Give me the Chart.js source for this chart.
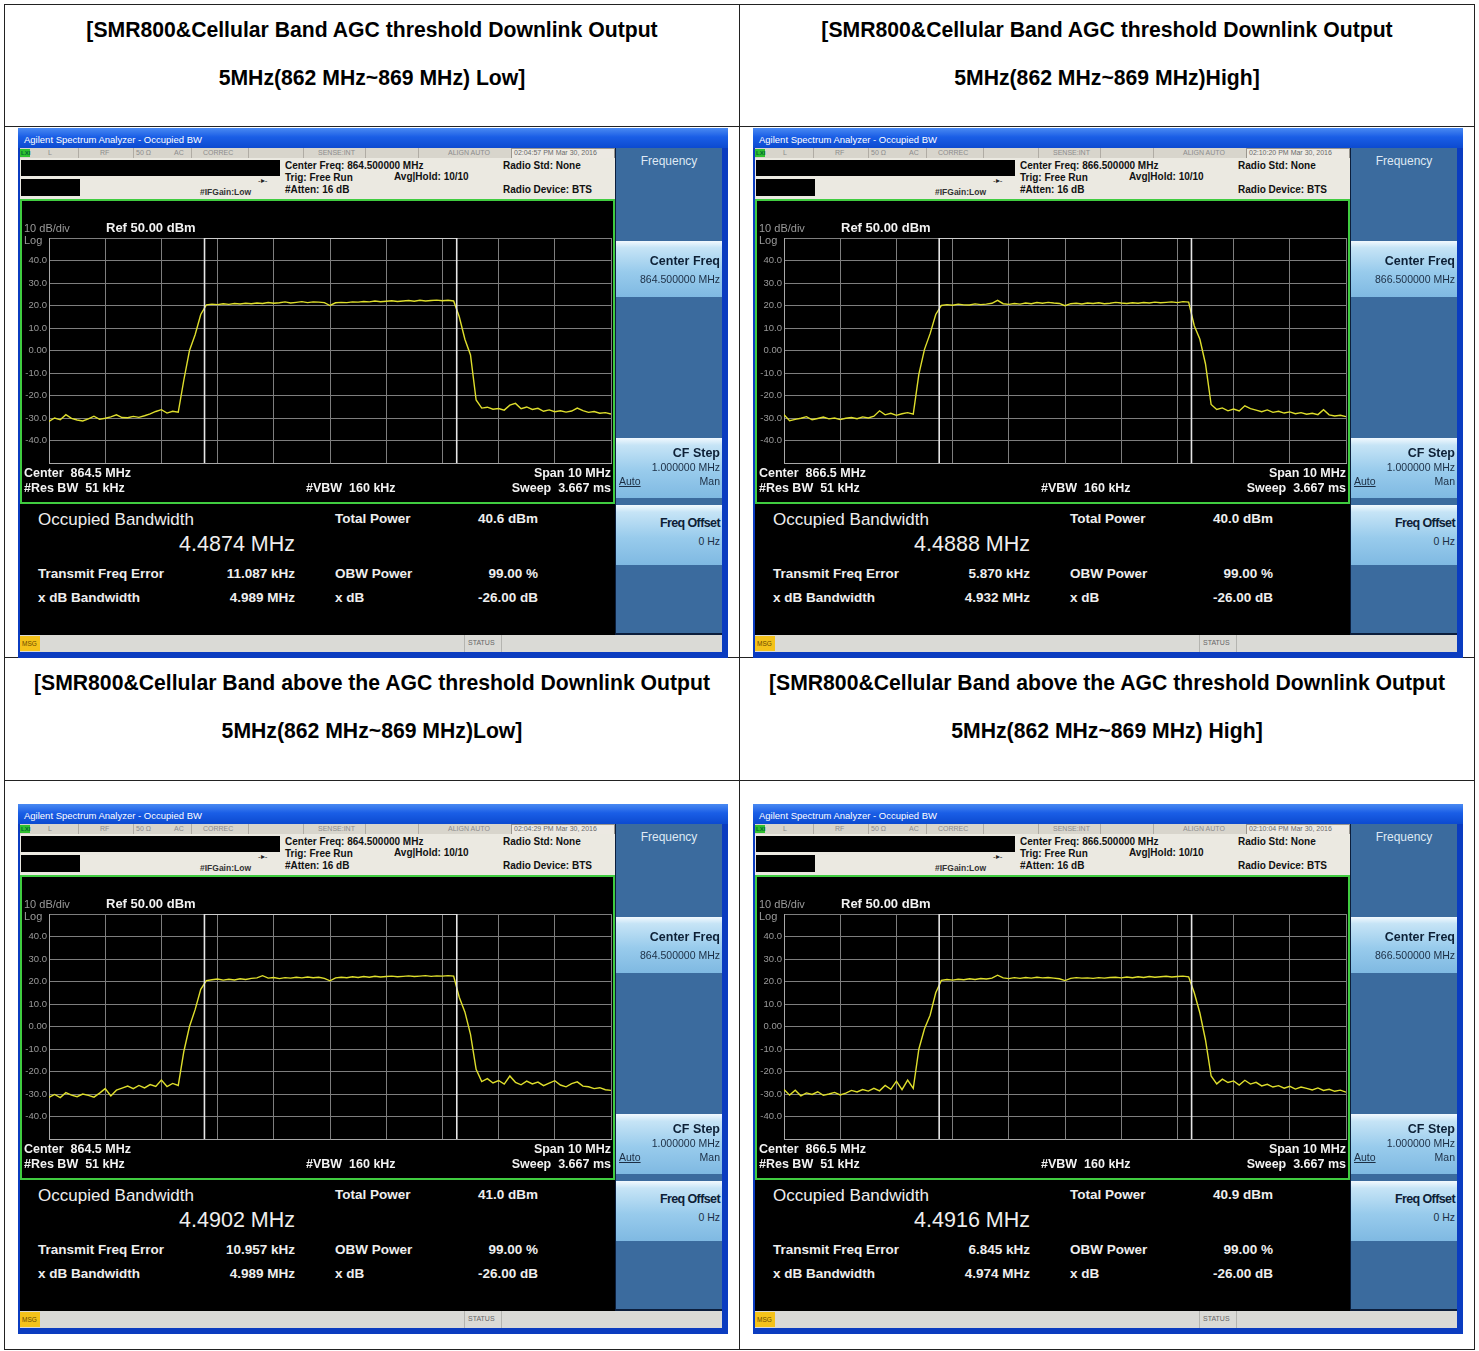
<!DOCTYPE html>
<html>
<head>
<meta charset="utf-8">
<script src="https://cdn.jsdelivr.net/npm/chart.js@4.4.1/dist/chart.umd.min.js"></script>
<style>
  body { margin: 0; width: 1479px; height: 1351px; position: relative; background: #fff; font-family: "Liberation Sans", Arial, sans-serif; overflow: hidden; }
  .abs { position: absolute; }
</style>
</head>
<body>
<script>
// sweep traces, 101 points across the 10 MHz span (dBm)
const traceLowAgc = [
  -31.5, -30.0, -30.8, -28.5, -30.2, -30.9, -31.3, -30.4, -29.2, -30.6,
  -30.1, -29.5, -28.6, -29.8, -29.9, -29.3, -29.7, -29.0, -28.2, -27.1,
  -26.3, -27.8, -27.0, -27.4, -13.0, 0.0, 7.0, 16.0, 20.3, 20.6,
  20.4, 20.8, 20.5, 20.9, 20.7, 21.0, 20.8, 21.1, 20.9, 21.3,
  21.0, 21.2, 21.6, 21.1, 21.4, 21.7, 21.3, 21.6, 21.5, 21.3,
  20.0, 21.2, 21.4, 21.3, 21.6, 21.5, 21.8, 21.6, 22.0, 21.7,
  21.9, 22.1, 21.8, 22.0, 22.2, 21.9, 22.3, 22.0, 22.2, 22.4,
  22.1, 22.3, 22.0, 15.0, 5.0, -2.0, -22.0, -25.6, -25.2, -26.1,
  -25.8, -26.5, -24.3, -23.5, -25.9, -25.1, -26.2, -25.7, -27.0, -26.4,
  -27.2, -26.8, -27.4, -26.9, -25.6, -26.7, -27.5, -27.1, -27.9, -27.6,
  -28.2
];
const traceHighAgc = [
  -28.5, -31.2, -30.6, -30.1, -29.4, -30.8, -30.2, -29.6, -30.4, -30.0,
  -30.7, -30.1, -29.8, -30.3, -29.5, -30.0, -29.2, -26.8, -28.6, -27.9,
  -28.8, -28.1, -27.6, -28.3, -10.5, 0.5, 7.5, 16.0, 20.0, 20.4,
  20.1, 20.6, 20.3, 20.2, 20.7, 20.4, 20.6, 21.0, 22.3, 20.8,
  20.5, 20.9, 20.6, 21.1, 20.8, 21.3, 21.0, 21.4, 21.1, 20.9,
  19.9, 20.8, 21.0, 20.7, 21.1, 20.9, 21.2, 20.8, 21.0, 21.4,
  21.1, 20.9, 21.2, 21.0, 21.3, 21.1, 21.5, 21.2, 21.4, 21.6,
  21.3, 21.7, 21.5, 11.0, 5.0, -6.0, -24.0, -26.2, -25.5, -26.8,
  -26.0, -26.9, -24.6, -25.8, -26.5, -27.2, -26.4, -27.5, -27.0, -27.8,
  -27.3, -28.1, -27.6, -28.3, -27.9, -28.5, -26.3, -28.6, -29.1, -28.8,
  -29.4
];
const traceLowAbove = [
  -31.5, -30.2, -31.6, -29.4, -30.5, -31.2, -30.0, -30.6, -31.4, -29.6,
  -27.6, -30.9, -28.3, -27.4, -26.5, -27.6, -26.2, -27.3, -25.8, -26.6,
  -23.8, -26.7, -25.3, -26.2, -11.0, 0.0, 7.5, 16.5, 20.4, 20.8,
  21.1, 20.6, 21.0, 20.7, 21.2, 20.9, 21.4, 21.6, 22.6, 21.5,
  21.8, 21.3, 21.7, 21.5, 21.9, 21.6, 22.0, 21.7, 21.9, 21.4,
  20.3, 21.6, 21.9, 21.7, 22.1, 21.8, 22.2, 21.9, 22.3, 22.0,
  22.2, 22.4, 22.1, 22.3, 22.5, 22.2, 22.4, 22.6, 22.3, 22.5,
  22.4, 22.6, 22.4, 13.0, 6.5, -3.5, -19.0, -24.5, -23.2, -25.1,
  -24.0, -25.6, -22.0, -24.8, -25.9, -24.3, -25.5, -24.7, -26.3, -25.2,
  -24.1, -26.0, -26.8, -25.4, -24.6, -26.5, -26.8, -27.6, -27.2, -28.1,
  -28.4
];
const traceHighAbove = [
  -28.0, -30.5, -28.3, -30.8, -29.5, -30.2, -29.0, -30.6, -30.0, -29.3,
  -30.4, -29.6, -28.4, -29.1, -28.0, -28.7, -27.5, -28.6, -26.2, -27.9,
  -24.3, -28.1, -23.8, -27.5, -10.0, -1.0, 5.0, 15.0, 20.5, 20.9,
  20.6, 21.0, 20.8, 21.2, 20.9, 21.3, 21.1, 21.5, 22.8, 21.6,
  21.3, 21.7, 21.4, 21.8, 21.5, 21.9, 21.6, 21.8, 21.5, 21.2,
  20.4, 21.4, 21.7, 21.5, 21.6, 21.4, 21.7, 21.5, 21.8, 21.9,
  21.6, 22.0, 21.7, 22.1, 21.8, 22.2, 21.9, 22.1, 22.3, 22.0,
  22.2, 22.4, 22.1, 15.0, 6.0, -6.0, -22.0, -25.5, -23.4, -24.9,
  -24.2, -26.0, -23.9, -25.6, -24.8, -26.4, -25.7, -26.9, -26.3, -27.4,
  -26.6, -27.8, -26.9, -27.5, -28.2, -27.3, -28.4, -27.9, -28.8, -28.3,
  -29.2
];

// per-screenshot readouts (same order as the traces)
const centerFreqs = [864.5, 866.5, 864.5, 866.5];
const obwMHz = [4.4874, 4.4888, 4.4902, 4.4916];
const freqErrorKHz = [11.087, 5.870, 10.957, 6.845];
const totalPowerDbm = [40.6, 40.0, 41.0, 40.9];
const xdbBandwidthMHz = [4.989, 4.932, 4.989, 4.974];
const timestamps = ["02:04:57 PM Mar 30, 2016", "02:10:20 PM Mar 30, 2016", "02:04:29 PM Mar 30, 2016", "02:10:04 PM Mar 30, 2016"];
const yTicks = [50, 40, 30, 20, 10, 0, -10, -20, -30, -40, -50];

const titleTop = [
  ["[SMR800&Cellular Band AGC threshold Downlink Output", "5MHz(862 MHz~869 MHz) Low]"],
  ["[SMR800&Cellular Band AGC threshold Downlink Output", "5MHz(862 MHz~869 MHz)High]"]
];
const titleBottom = [
  ["[SMR800&Cellular Band above the AGC threshold Downlink Output", "5MHz(862 MHz~869 MHz)Low]"],
  ["[SMR800&Cellular Band above the AGC threshold Downlink Output", "5MHz(862 MHz~869 MHz) High]"]
];

const SPAN = 10;

function box(parent, css) {
  const d = document.createElement("div");
  d.className = "abs";
  d.style.cssText += css;
  parent.appendChild(d);
  return d;
}

function text(parent, str, x, y, size, opt) {
  opt = opt || {};
  const h = Math.round(size * 1.4);
  const d = box(parent, `top:${y - h / 2}px;height:${h}px;line-height:${h}px;font-size:${size}px;white-space:pre;` +
    `color:${opt.color || "#000"};font-weight:${opt.bold ? "bold" : "normal"};` + (opt.css || ""));
  if (opt.align === "right") {
    d.style.left = (x - 400) + "px"; d.style.width = "400px"; d.style.textAlign = "right";
  } else if (opt.align === "center") {
    d.style.left = (x - 400) + "px"; d.style.width = "800px"; d.style.textAlign = "center";
  } else {
    d.style.left = x + "px";
  }
  d.textContent = str;
  return d;
}

// table grid
const page = document.body;
const LINE = "#222";
box(page, `left:4px;top:4px;width:1471px;height:1px;background:${LINE}`);
box(page, `left:4px;top:1349px;width:1471px;height:1px;background:${LINE}`);
box(page, `left:4px;top:4px;width:1px;height:1346px;background:${LINE}`);
box(page, `left:1474px;top:4px;width:1px;height:1346px;background:${LINE}`);
box(page, `left:739px;top:4px;width:1px;height:1346px;background:${LINE}`);
[126, 657, 780].forEach(y => box(page, `left:4px;top:${y}px;width:1471px;height:1px;background:${LINE}`));

[[titleTop, 30, 78], [titleBottom, 683, 731]].forEach(([titles, y1, y2]) => {
  titles.forEach((t, c) => {
    const cx = c === 0 ? 372 : 1107;
    text(page, t[0], cx, y1, 21.2, { bold: true, align: "center" });
    text(page, t[1], cx, y2, 21.2, { bold: true, align: "center" });
  });
});

const traces = [traceLowAgc, traceHighAgc, traceLowAbove, traceHighAbove];
const origins = [[18, 128], [753, 128], [18, 804], [753, 804]];

function drawScreen(k) {
  const [ox, oy] = origins[k];
  const cf = centerFreqs[k];
  const f = box(page, `left:${ox}px;top:${oy}px;width:710px;height:530px;background:#0b3cc0;overflow:hidden`);
  // title bar
  box(f, "left:0;top:0;width:710px;height:20px;background:linear-gradient(#4a8af2,#1a5ee6 45%,#0c4ad0)");
  text(f, "Agilent Spectrum Analyzer - Occupied BW", 6, 11, 9.5, { color: "#fff" });
  box(f, "left:2px;top:20px;width:595px;height:487px;background:#000");
  // status strip
  box(f, "left:2px;top:20px;width:595px;height:10px;background:#d8d5cc");
  box(f, "left:2px;top:21px;width:10px;height:8px;background:#2fc02f");
  text(f, "LXI", 3, 25, 6, { bold: true, color: "#063" });
  [["L", 30], ["RF", 82], ["50 \u03a9", 118], ["AC", 156], ["CORREC", 185], ["SENSE:INT", 300], ["ALIGN AUTO", 430]]
    .forEach(([s, x]) => text(f, s, x, 25, 7, { color: "#8c8c8c" }));
  [60, 115, 173, 230, 285, 347, 400].forEach(x => box(f, `left:${x}px;top:20px;width:1px;height:10px;background:#b0aca4`));
  box(f, "left:493px;top:20px;width:102px;height:9px;border:1px solid #9a968e;background:#ece9e2");
  text(f, timestamps[k], 496, 25, 7, { color: "#6a6a6a" });
  // header
  box(f, "left:2px;top:30px;width:595px;height:41px;background:#ebe9e1");
  box(f, "left:3px;top:32px;width:259px;height:16px;background:#000");
  box(f, "left:3px;top:51px;width:59px;height:17px;background:#000");
  text(f, "-\u25b8-", 240, 52, 8, { color: "#222" });
  text(f, "#IFGain:Low", 182, 64, 8.5, { bold: true, color: "#333" });
  text(f, "Center Freq: " + cf.toFixed(6) + " MHz", 267, 38, 10, { bold: true, color: "#111" });
  text(f, "Trig: Free Run", 267, 50, 10, { bold: true, color: "#111" });
  text(f, "Avg|Hold: 10/10", 376, 49, 10, { bold: true, color: "#111" });
  text(f, "#Atten: 16 dB", 267, 62, 10, { bold: true, color: "#111" });
  text(f, "Radio Std: None", 485, 38, 10, { bold: true, color: "#111" });
  text(f, "Radio Device: BTS", 485, 62, 10, { bold: true, color: "#111" });

  // plot area
  const plot = box(f, "left:2px;top:71px;width:595px;height:305px;box-sizing:border-box;border:2px solid #40cc40;background:#000");
  const cv = document.createElement("canvas");
  cv.width = 591; cv.height = 301;
  cv.style.cssText = "position:absolute;left:0;top:0;width:591px;height:301px";
  plot.appendChild(cv);
  text(plot, "10 dB/div", 2, 27, 11, { color: "#9a9a9a" });
  text(plot, "Log", 2, 39, 11, { color: "#9a9a9a" });
  text(plot, "Ref 50.00 dBm", 84, 27, 13, { bold: true, color: "#f2f2f2" });
  text(plot, "Center  " + cf.toFixed(1) + " MHz", 2, 272, 12.5, { bold: true, color: "#f2f2f2" });
  text(plot, "#Res BW  51 kHz", 2, 287, 12.5, { bold: true, color: "#f2f2f2" });
  text(plot, "#VBW  160 kHz", 284, 287, 12.5, { bold: true, color: "#f2f2f2" });
  text(plot, "Span 10 MHz", 589, 272, 12.5, { bold: true, color: "#f2f2f2", align: "right" });
  text(plot, "Sweep  3.667 ms", 589, 287, 12.5, { bold: true, color: "#f2f2f2", align: "right" });

  // results panel
  const wc = "#eeeeee";
  text(f, "Occupied Bandwidth", 20, 392, 17, { color: wc });
  text(f, obwMHz[k].toFixed(4) + " MHz", 277, 416, 21.5, { color: wc, align: "right" });
  text(f, "Total Power", 317, 390, 13.5, { bold: true, color: wc });
  text(f, totalPowerDbm[k].toFixed(1) + " dBm", 520, 390, 13.5, { bold: true, color: wc, align: "right" });
  text(f, "Transmit Freq Error", 20, 445, 13.5, { bold: true, color: wc });
  text(f, freqErrorKHz[k].toFixed(3) + " kHz", 277, 445, 13.5, { bold: true, color: wc, align: "right" });
  text(f, "OBW Power", 317, 445, 13.5, { bold: true, color: wc });
  text(f, "99.00 %", 520, 445, 13.5, { bold: true, color: wc, align: "right" });
  text(f, "x dB Bandwidth", 20, 469, 13.5, { bold: true, color: wc });
  text(f, xdbBandwidthMHz[k].toFixed(3) + " MHz", 277, 469, 13.5, { bold: true, color: wc, align: "right" });
  text(f, "x dB", 317, 469, 13.5, { bold: true, color: wc });
  text(f, "-26.00 dB", 520, 469, 13.5, { bold: true, color: wc, align: "right" });

  // softkeys
  box(f, "left:597px;top:20px;width:107px;height:487px;background:#0c1e3c");
  box(f, "left:598px;top:20px;width:106px;height:485px;background:#3b6b9e");
  text(f, "Frequency", 651, 33, 12, { color: "#dfe9f4", align: "center" });
  const key = "background:linear-gradient(#f2f9fe 0,#c6e4f6 12%,#98cbec 55%,#7fb9e2 100%);width:106px;left:598px;";
  box(f, key + "top:113px;height:56px");
  box(f, key + "top:310px;height:60px");
  box(f, key + "top:377px;height:60px");
  text(f, "Center Freq", 702, 133, 12.5, { bold: true, color: "#0d2036", align: "right" });
  text(f, cf.toFixed(6) + " MHz", 702, 151, 10.5, { color: "#1c2e44", align: "right" });
  text(f, "CF Step", 702, 325, 12.5, { bold: true, color: "#0d2036", align: "right" });
  text(f, "1.000000 MHz", 702, 339, 10.5, { color: "#1c2e44", align: "right" });
  text(f, "Auto", 601, 353, 10.5, { color: "#1c2e44", css: "text-decoration:underline" });
  text(f, "Man", 702, 353, 10.5, { color: "#1c2e44", align: "right" });
  text(f, "Freq Offset", 702, 395, 12.5, { bold: true, color: "#0d2036", align: "right", css: "letter-spacing:-0.6px" });
  text(f, "0 Hz", 702, 413, 10.5, { color: "#1c2e44", align: "right" });

  // bottom status bar
  box(f, "left:2px;top:507px;width:702px;height:17px;background:#dadad6");
  box(f, "left:2px;top:508px;width:20px;height:15px;background:#f4c21a");
  text(f, "MSG", 4, 515, 6.5, { color: "#6a4a00" });
  box(f, "left:446px;top:507px;width:1px;height:17px;background:#b4b4b0");
  box(f, "left:483px;top:507px;width:1px;height:17px;background:#b4b4b0");
  text(f, "STATUS", 450, 515, 7, { color: "#666" });

  // the trace itself, drawn through the chart scales
  const trace = traces[k];
  const pts = trace.map((v, i) => ({ x: cf - SPAN / 2 + i * SPAN / (trace.length - 1), y: v }));
  const lo = cf + freqErrorKHz[k] / 1000 - obwMHz[k] / 2;
  const hi = cf + freqErrorKHz[k] / 1000 + obwMHz[k] / 2;
  const markers = [{ x: lo, y: -50 }, { x: lo, y: 50 }, { x: hi, y: 50 }, { x: hi, y: -50 }];
  const gridFreqs = [];
  for (let g = 0; g <= 10; g++) gridFreqs.push(cf - SPAN / 2 + g);

  new Chart(cv, {
    type: "line",
    data: {
      datasets: [
        { data: markers, borderColor: "#e6e6e6", borderWidth: 1.6, pointRadius: 0, tension: 0 },
        { data: pts, borderColor: "#dede2c", borderWidth: 1.4, pointRadius: 0, tension: 0 }
      ]
    },
    options: {
      responsive: false,
      animation: false,
      events: [],
      layout: { padding: { left: 0, right: 2, top: 37, bottom: 39 } },
      plugins: { legend: { display: false }, tooltip: { enabled: false } },
      scales: {
        x: {
          type: "linear", min: cf - SPAN / 2, max: cf + SPAN / 2,
          afterBuildTicks: s => { s.ticks = gridFreqs.map(v => ({ value: v })); },
          afterFit: s => { s.height = 0; },
          ticks: { display: false },
          grid: { color: "#7e7e7e", lineWidth: 1, drawTicks: false },
          border: { color: "#a8a8a8" }
        },
        y: {
          min: -50, max: 50,
          afterBuildTicks: s => { s.ticks = yTicks.map(v => ({ value: v })); },
          afterFit: s => { s.width = 27; },
          ticks: {
            color: "#9a9a9a", font: { size: 9.5, family: "Liberation Sans" }, padding: 2,
            callback: v => (v === 50 || v === -50) ? "" : (v === 0 ? "0.00" : v.toFixed(1))
          },
          grid: { color: "#7e7e7e", lineWidth: 1, drawTicks: false },
          border: { color: "#a8a8a8" }
        }
      }
    }
  });
}

for (let k = 0; k < 4; k++) drawScreen(k);
</script>
</body>
</html>
